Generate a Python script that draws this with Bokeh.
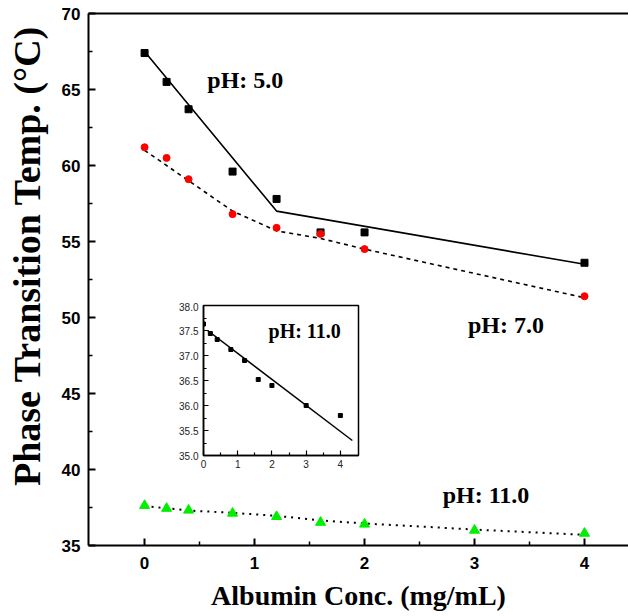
from bokeh.plotting import figure
from bokeh.models import Range1d, LinearAxis, FixedTicker, PrintfTickFormatter
from bokeh.embed import file_html
from bokeh.resources import INLINE
from bokeh.core.properties import value

# ---------------- data ----------------
conc = [0, 0.2, 0.4, 0.8, 1.2, 1.6, 2.0, 4.0]
ph5 = [67.4, 65.5, 63.7, 59.6, 57.8, 55.6, 55.6, 53.6]
ph7 = [61.2, 60.5, 59.1, 56.8, 55.9, 55.5, 54.5, 51.4]
conc11 = [0, 0.2, 0.4, 0.8, 1.2, 1.6, 2.0, 3.0, 4.0]
ph11 = [37.63, 37.44, 37.32, 37.12, 36.9, 36.52, 36.4, 36.0, 35.8]

fit5_x = [0, 1.2, 4.0]
fit5_y = [67.5, 57.0, 53.5]
fit7_x = [0, 0.4, 0.8, 1.2, 1.6, 2.0, 4.0]
fit7_y = [61.0, 59.0, 57.0, 55.7, 55.2, 54.5, 51.3]
fit11_x = [0, 0.4, 0.8, 1.2, 1.6, 2.0, 3.0, 4.0]
fit11_y = [37.6, 37.3, 37.15, 36.95, 36.65, 36.45, 36.05, 35.7]
inset_fit_x = [0.12, 4.35]
inset_fit_y = [37.5, 35.3]

x_ticks = [0, 1, 2, 3, 4]
x_minor = [0.5, 1.5, 2.5, 3.5]
y_ticks = [35, 40, 45, 50, 55, 60, 65, 70]
y_minor = [37.5, 42.5, 47.5, 52.5, 57.5, 62.5, 67.5]
inset_x_ticks = [0, 1, 2, 3, 4]
inset_x_minor = [0.5, 1.5, 2.5, 3.5]
inset_y_ticks = [35.0, 35.5, 36.0, 36.5, 37.0, 37.5, 38.0]
inset_y_minor = [35.25, 35.75, 36.25, 36.75, 37.25, 37.75]

SERIF = "Liberation Serif"
SANS = "Liberation Sans"
NBSP = "\u00a0"

# ---------------- main figure ----------------
p = figure(width=628, height=616, x_range=Range1d(-0.51, 4.40), y_range=Range1d(35, 70),
           output_backend="svg", toolbar_location=None,
           min_border_left=88, min_border_right=0, min_border_top=13, min_border_bottom=71)
p.outline_line_color = None
p.xgrid.visible = False
p.ygrid.visible = False
p.background_fill_color = "white"
p.border_fill_color = "white"

for ax in (p.xaxis[0], p.yaxis[0]):
    ax.axis_line_width = 2
    ax.axis_line_color = "black"
    ax.major_tick_in = 7
    ax.major_tick_out = 0
    ax.minor_tick_in = 4
    ax.minor_tick_out = 0
    ax.major_tick_line_width = 2
    ax.minor_tick_line_width = 1.5
    ax.major_label_text_font = SANS
    ax.major_label_text_font_style = "bold"
    ax.major_label_text_font_size = "17px"
    ax.major_label_text_color = "black"
    ax.axis_label_text_font = SERIF
    ax.axis_label_text_font_style = "bold"
    ax.axis_label_text_color = "black"

p.xaxis[0].axis_label_text_font_size = "28px"
p.yaxis[0].axis_label_text_font_size = "38px"
p.xaxis[0].ticker = FixedTicker(ticks=x_ticks, minor_ticks=x_minor)
p.yaxis[0].ticker = FixedTicker(ticks=y_ticks, minor_ticks=y_minor)
p.xaxis[0].axis_label = "Albumin Conc. (mg/mL)"
p.yaxis[0].axis_label = NBSP * 5 + "Phase Transition Temp. (°C)"
p.xaxis[0].major_label_standoff = 11
p.yaxis[0].major_label_standoff = 8
p.xaxis[0].axis_label_standoff = 8
p.yaxis[0].axis_label_standoff = 11

top = LinearAxis(ticker=FixedTicker(ticks=[]), axis_line_width=2, axis_line_color="black",
                 major_tick_in=0, major_tick_out=0, minor_tick_in=0, minor_tick_out=0,
                 major_label_text_font_size="0px", major_label_standoff=0)
p.add_layout(top, "above")

# lines
p.line(fit5_x, fit5_y, line_color="black", line_width=1.6)
p.line(fit7_x, fit7_y, line_color="black", line_width=1.6, line_dash="4 4")
p.line(fit11_x, fit11_y, line_color="black", line_width=2, line_dash="2 5")

# markers
p.scatter(conc, ph5, marker="square", size=7, fill_color="black", line_color="black")
p.scatter(conc, ph7, marker="circle", size=7, fill_color="red", line_color="red")
p.scatter(conc11, ph11, marker="triangle", size=10, fill_color="#00ee00", line_color="#00ee00")

# annotations
p.text(x=[0.57], y=[65.6], text=["pH: 5.0"], text_font=value(SERIF), text_font_style="bold",
       text_font_size="24px", text_baseline="alphabetic", text_align="left", text_color="black")
p.text(x=[2.94], y=[49.5], text=["pH: 7.0"], text_font=value(SERIF), text_font_style="bold",
       text_font_size="24px", text_baseline="alphabetic", text_align="left", text_color="black")
p.text(x=[2.71], y=[38.3], text=["pH: 11.0"], text_font=value(SERIF), text_font_style="bold",
       text_font_size="24px", text_baseline="alphabetic", text_align="left", text_color="black")

# ---------------- inset ----------------
ins = figure(width=190, height=175, x_range=Range1d(0, 4.53), y_range=Range1d(35, 38),
             output_backend="svg", toolbar_location=None,
             min_border_left=32, min_border_right=3, min_border_top=3, min_border_bottom=22,
             styles={"position": "absolute", "left": "171px", "top": "302px"})
ins.outline_line_color = "black"
ins.outline_line_width = 1.5
ins.xgrid.visible = False
ins.ygrid.visible = False
ins.border_fill_color = None
for ax in (ins.xaxis[0], ins.yaxis[0]):
    ax.axis_line_width = 1.5
    ax.major_tick_in = 5
    ax.major_tick_out = 0
    ax.minor_tick_in = 3
    ax.minor_tick_out = 0
    ax.major_tick_line_width = 1.2
    ax.minor_tick_line_width = 1.2
    ax.major_label_text_font = SANS
    ax.major_label_text_font_size = "10px"
    ax.major_label_text_color = "#222222"
ins.xaxis[0].ticker = FixedTicker(ticks=inset_x_ticks, minor_ticks=inset_x_minor)
ins.yaxis[0].ticker = FixedTicker(ticks=inset_y_ticks, minor_ticks=inset_y_minor)
ins.yaxis[0].formatter = PrintfTickFormatter(format="%.1f")
ins.xaxis[0].major_label_standoff = 4
ins.yaxis[0].major_label_standoff = 5

ins.line(inset_fit_x, inset_fit_y, line_color="black", line_width=1.5)
ins.scatter(conc11, ph11, marker="square", size=4, fill_color="black", line_color="black")
ins.text(x=[1.9], y=[37.49], text=["pH: 11.0"], text_font=value(SERIF), text_font_style="bold",
         text_font_size="20px", text_baseline="alphabetic", text_align="left", text_color="black")

open("out.html", "w").write(file_html([p, ins], INLINE))
